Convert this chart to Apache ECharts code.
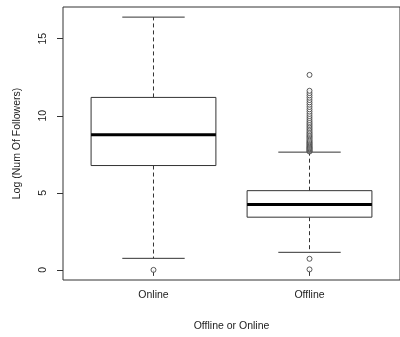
<!DOCTYPE html>
<html>
<head>
<meta charset="utf-8">
<script src="https://cdn.jsdelivr.net/npm/echarts@6/dist/echarts.min.js"></script>
<style>html,body{margin:0;padding:0;background:#fff}#c{width:400px;height:337px}</style>
</head>
<body>
<div id="c"></div>
<script>
const categories = ['Online', 'Offline'];
const minVals = [0.75, 1.14];
const q1Vals = [6.77, 3.42];
const medianVals = [8.77, 4.24];
const q3Vals = [11.19, 5.14];
const maxVals = [16.4, 7.64];
const outliersOnline = [0];
const outliersOffline = [0.03, 0.72, 7.68, 7.72, 7.78, 7.83, 7.88, 7.93, 7.98, 8.04, 8.1, 8.16, 8.22, 8.28, 8.35, 8.42, 8.5, 8.58, 8.66, 8.74, 8.82, 8.9, 9.0, 9.1, 9.2, 9.3, 9.4, 9.5, 9.6, 9.72, 9.85, 9.98, 10.12, 10.27, 10.42, 10.57, 10.72, 10.87, 11.02, 11.17, 11.32, 11.47, 11.62, 12.65];
const yTicks = [0, 5, 10, 15];
const xTicks = [1, 2];

const FONT = 'Liberation Sans, Arial, sans-serif';
const LINE = '#333';

const boxData = categories.map((c, i) => [i + 1, minVals[i], q1Vals[i], medianVals[i], q3Vals[i], maxVals[i]]);
const outlierData = [];
outliersOnline.forEach(v => outlierData.push([1, v]));
outliersOffline.forEach(v => outlierData.push([2, v]));

const chart = echarts.init(document.getElementById('c'), null, {renderer: 'canvas'});
chart.setOption({
  animation: false,
  backgroundColor: '#fff',
  grid: {left: 63, top: 7, width: 340, bottom: 56, show: true, borderColor: LINE, borderWidth: 1, backgroundColor: 'transparent'},
  xAxis: {
    type: 'value', min: 0.42, max: 2.58,
    name: 'Offline or Online', nameLocation: 'middle', nameGap: 41,
    nameTextStyle: {fontFamily: FONT, fontSize: 10.5, color: '#222'},
    axisLine: {show: false},
    splitLine: {show: false},
    axisTick: {show: true, length: 6, customValues: xTicks, lineStyle: {color: LINE}},
    axisLabel: {customValues: xTicks, formatter: v => categories[Math.round(v) - 1] || '', fontFamily: FONT, fontSize: 10.5, color: '#222', margin: 10}
  },
  yAxis: {
    type: 'value', min: -0.656, max: 17.056,
    name: 'Log (Num Of Followers)', nameLocation: 'middle', nameGap: 40,
    nameTextStyle: {fontFamily: FONT, fontSize: 10.5, color: '#222'},
    axisLine: {show: false},
    splitLine: {show: false},
    axisTick: {show: true, length: 6, customValues: yTicks, lineStyle: {color: LINE}},
    axisLabel: {customValues: yTicks, rotate: 90, fontFamily: FONT, fontSize: 10.5, color: '#222', margin: 14}
  },
  series: [
    {
      type: 'custom',
      data: boxData,
      encode: {x: 0, y: [1, 2, 3, 4, 5]},
      renderItem: function (params, api) {
        const x = api.value(0);
        const half = api.size([0.8, 0])[0] / 2;
        const capHalf = half / 2;
        const pMin = api.coord([x, api.value(1)]);
        const pQ1 = api.coord([x, api.value(2)]);
        const pMed = api.coord([x, api.value(3)]);
        const pQ3 = api.coord([x, api.value(4)]);
        const pMax = api.coord([x, api.value(5)]);
        const cx = pMed[0];
        return {
          type: 'group',
          children: [
            {type: 'line', shape: {x1: cx, y1: pQ3[1], x2: cx, y2: pMax[1]}, style: {stroke: LINE, lineWidth: 1, lineDash: [4, 3]}},
            {type: 'line', shape: {x1: cx, y1: pQ1[1], x2: cx, y2: pMin[1]}, style: {stroke: LINE, lineWidth: 1, lineDash: [4, 3]}},
            {type: 'line', shape: {x1: cx - capHalf, y1: pMax[1], x2: cx + capHalf, y2: pMax[1]}, style: {stroke: LINE, lineWidth: 1}},
            {type: 'line', shape: {x1: cx - capHalf, y1: pMin[1], x2: cx + capHalf, y2: pMin[1]}, style: {stroke: LINE, lineWidth: 1}},
            {type: 'rect', shape: {x: cx - half, y: pQ3[1], width: half * 2, height: pQ1[1] - pQ3[1]}, style: {fill: '#fff', stroke: LINE, lineWidth: 1}},
            {type: 'line', shape: {x1: cx - half, y1: pMed[1], x2: cx + half, y2: pMed[1]}, style: {stroke: '#000', lineWidth: 3}}
          ]
        };
      }
    },
    {
      type: 'scatter',
      data: outlierData,
      symbol: 'circle',
      symbolSize: 5,
      itemStyle: {color: '#fff', borderColor: LINE, borderWidth: 1}
    }
  ]
});
</script>
</body>
</html>
